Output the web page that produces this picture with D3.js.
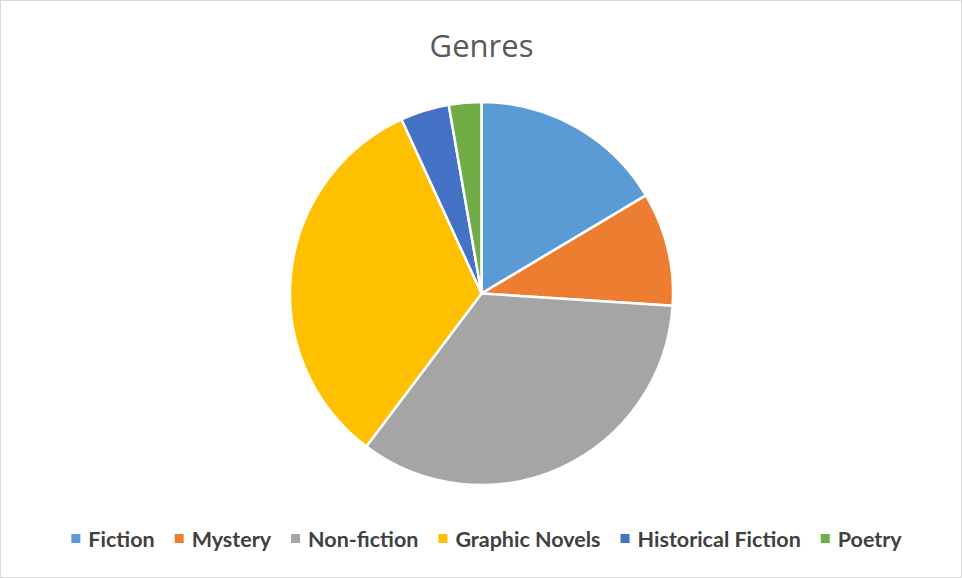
<!DOCTYPE html>
<html><head><meta charset="utf-8">
<script src="https://cdn.jsdelivr.net/npm/d3@7"></script>
<style>html,body{margin:0;padding:0;background:#fff;}svg{display:block;}</style>
</head><body>
<svg id="chart" width="962" height="578"></svg>
<script>
const title = "Genres";
const categories = ["Fiction", "Mystery", "Non-fiction", "Graphic Novels", "Historical Fiction", "Poetry"];
const values = [12, 7, 25, 24, 3, 2];
const colors = ["#5B9BD5", "#ED7D31", "#A5A5A5", "#FFC000", "#4472C4", "#70AD47"];

const W = 962, H = 578;
const svg = d3.select("#chart");
svg.append("rect").attr("x", 0.5).attr("y", 0.5).attr("width", W - 1).attr("height", H - 1)
  .attr("fill", "#fff").attr("stroke", "#D9D9D9").attr("stroke-width", 1);

svg.append("text").attr("x", 481.5).attr("y", 57).attr("text-anchor", "middle")
  .attr("font-family", "'Open Sans', sans-serif").attr("font-size", 31)
  .attr("fill", "#595959").text(title);

const cx = 481.5, cy = 293.5, r = 191.5;
const data = categories.map((c, i) => ({ name: c, value: values[i] }));
const pie = d3.pie().value(d => d.value).sort(null);
const arc = d3.arc().innerRadius(0).outerRadius(r);
const color = d3.scaleOrdinal().domain(categories).range(colors);

svg.append("g").attr("transform", `translate(${cx},${cy})`)
  .selectAll("path").data(pie(data)).join("path")
  .attr("d", arc).attr("fill", d => color(d.data.name))
  .attr("stroke", "#fff").attr("stroke-width", 2.5).attr("stroke-linejoin", "round");

// legend
const lg = svg.append("g");
const fontSize = 21.5, sq = 9, sqGap = 8, itemGap = 20;
const items = lg.selectAll("g").data(categories).join("g");
items.append("rect").attr("width", sq).attr("height", sq).attr("y", -sq / 2 - 0.5)
  .attr("fill", d => color(d));
items.append("text").attr("x", sq + sqGap).attr("dy", "0.35em")
  .attr("font-family", "Lato, sans-serif").attr("font-weight", 700).attr("font-size", fontSize)
  .attr("fill", "#404040").text(d => d);
const widths = [];
items.each(function () { widths.push(this.querySelector("text").getComputedTextLength() + sq + sqGap); });
const total = d3.sum(widths) + itemGap * (widths.length - 1);
let x = 486.5 - total / 2;
items.attr("transform", (d, i) => { const t = `translate(${x},539)`; x += widths[i] + itemGap; return t; });
</script>
</body></html>
